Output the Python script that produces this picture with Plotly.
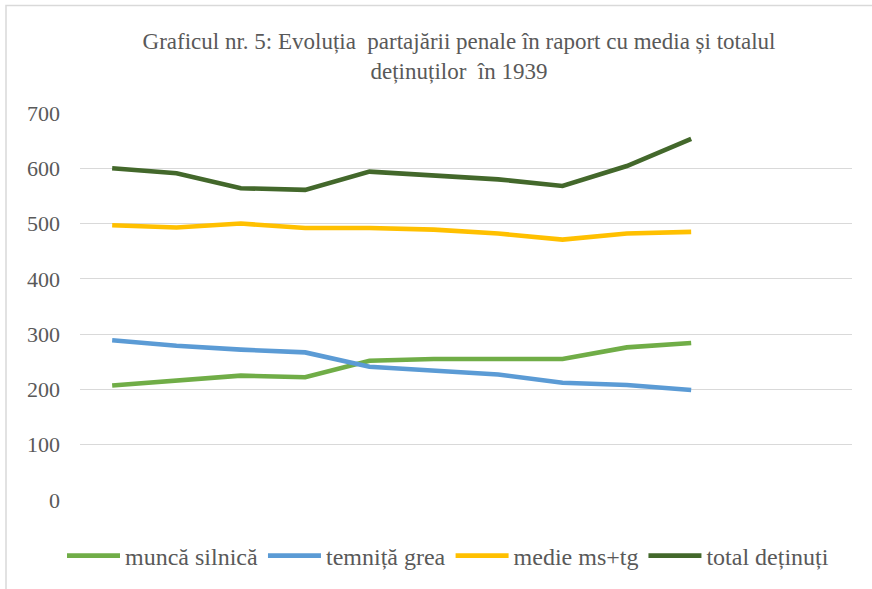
import plotly.graph_objects as go

# 12 category slots on the x axis (no labels shown in the original)
categories = list(range(1, 13))
x_points = categories[:10]

munca_silnica = [207, 217, 225, 222, 252, 255, 255, 255, 276, 284]
temnita_grea = [289, 279, 272, 267, 241, 234, 227, 212, 208, 199]
medie_ms_tg = [497, 493, 500, 492, 492, 489, 482, 471, 482, 485]
total_detinuti = [600, 591, 564, 561, 594, 588, 580, 568, 604, 653]

series_names = ["muncă silnică", "temniță grea", "medie ms+tg", "total deținuți"]
series_values = [munca_silnica, temnita_grea, medie_ms_tg, total_detinuti]
series_colors = ["#70AD47", "#5B9BD5", "#FFC000", "#43682B"]

y_ticks = [0, 100, 200, 300, 400, 500, 600, 700]

title_text = ("Graficul nr. 5: Evoluția  partajării penale în raport cu media și totalul"
              "<br>deținuților  în 1939")

FONT = "Liberation Serif"
GRAY = "#595959"

fig = go.Figure()
for name, vals, col in zip(series_names, series_values, series_colors):
    fig.add_trace(go.Scatter(
        x=x_points, y=vals, name=name, mode="lines",
        line=dict(color=col, width=4.6),
    ))

W, H = 872, 589
L, R, T, B = 80, 20, 113, 89
PW, PH = W - L - R, H - T - B

fig.update_layout(
    width=W, height=H, autosize=False,
    margin=dict(l=L, r=R, t=T, b=B, autoexpand=False),
    paper_bgcolor="white", plot_bgcolor="white",
    font=dict(family=FONT, color=GRAY, size=21),
    title=dict(text=title_text, x=(459 - L) / PW, xref="paper",
               xanchor="center", y=1 - 49 / H, yref="container", yanchor="top",
               font=dict(family=FONT, size=23, color=GRAY)),
    xaxis=dict(range=[0.5, 12.5], showticklabels=False, showgrid=False,
               zeroline=False, showline=False, ticks=""),
    yaxis=dict(range=[0, 700], tickvals=y_ticks, ticktext=[str(v) for v in y_ticks],
               showgrid=True, gridcolor="#D9D9D9", gridwidth=1, zeroline=False,
               showline=False, ticks="", ticklabelstandoff=19,
               tickfont=dict(family=FONT, size=22, color=GRAY)),
    legend=dict(orientation="h", x=(448 - L) / PW, xanchor="center",
                y=-(556 - (H - B)) / PH, yanchor="middle",
                font=dict(family=FONT, size=24, color=GRAY),
                itemwidth=53, bgcolor="rgba(0,0,0,0)"),
    showlegend=True,
)

# chart-area border (top and left edges visible in the original)
fig.add_shape(type="rect", xref="paper", yref="paper",
              x0=(6 - L) / PW, x1=(W + 20 - L) / PW,
              y0=-(H + 20 - (H - B)) / PH, y1=1 + (T - 5.5) / PH,
              line=dict(color="#D9D9D9", width=1.5), fillcolor="rgba(0,0,0,0)",
              layer="below")

fig.write_html("out.html", config={"displayModeBar": False},
               post_script="document.body.style.margin='0';")
